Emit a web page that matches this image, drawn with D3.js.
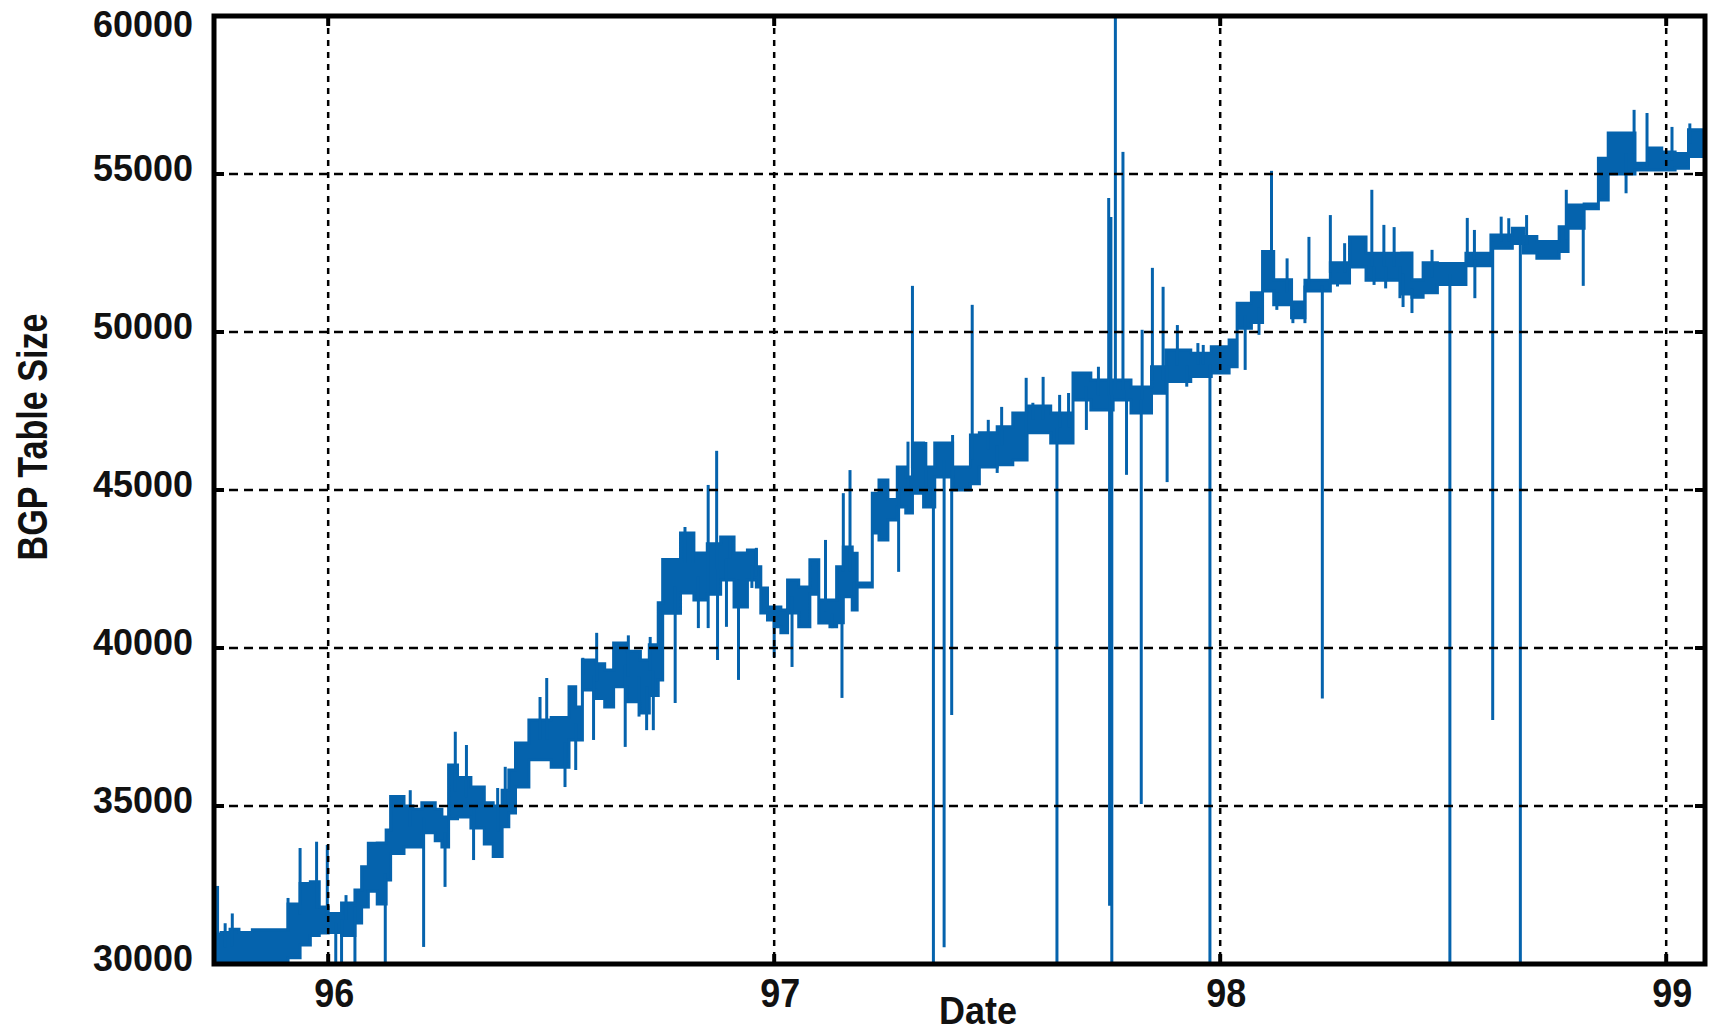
<!DOCTYPE html>
<html>
<head>
<meta charset="utf-8">
<script src="https://cdn.jsdelivr.net/npm/d3@7"></script>
<style>
  body { margin: 0; background: #fff; }
  text { font-family: "Liberation Sans", Arial, sans-serif; font-weight: bold; fill: #111; }
</style>
</head>
<body>
<div id="chart"></div>
<script>
// band of the BGP table size (low / high edge), each row holds until the next date
var dates = [95.745, 95.76, 95.78, 95.80, 95.83, 95.91, 95.937, 95.96, 95.98, 96.00,
  96.03, 96.06, 96.075, 96.09, 96.11, 96.13, 96.14, 96.17, 96.19, 96.21,
  96.24, 96.255, 96.27, 96.29, 96.32, 96.35, 96.37, 96.39, 96.405, 96.42,
  96.45, 96.50, 96.54, 96.555, 96.57, 96.60, 96.62, 96.64, 96.67, 96.70,
  96.72, 96.74, 96.75, 96.79, 96.82, 96.85, 96.88, 96.91, 96.94, 96.96,
  96.97, 96.985, 97.00, 97.015, 97.03, 97.055, 97.08, 97.10, 97.125, 97.14,
  97.155, 97.175, 97.186, 97.22, 97.235, 97.255, 97.276, 97.295, 97.31, 97.335,
  97.36, 97.40, 97.44, 97.46, 97.50, 97.535, 97.567, 97.62, 97.67, 97.71,
  97.76, 97.80, 97.846, 97.878, 97.934, 97.98, 98.02, 98.038, 98.07, 98.095,
  98.12, 98.16, 98.19, 98.247, 98.29, 98.327, 98.407, 98.43, 98.455, 98.487,
  98.551, 98.607, 98.655, 98.68, 98.71, 98.76, 98.78, 98.816, 98.848, 98.87,
  98.93, 98.96, 98.99, 99.02, 99.05, 99.09];

var lowValues = [30000, 30050, 30000, 30050, 30000, 30200, 30600, 30900, 30980, 31000,
  30900, 31300, 31800, 32300, 31900, 32660, 33500, 33700, 33700, 34150,
  33900, 33700, 34600, 34650, 34300, 33800, 33400, 34340, 34780, 35600,
  36460, 36230, 37090, 37090, 38670, 38400, 38130, 38770, 38300, 37940,
  38500, 38990, 41100, 41740, 41520, 41700, 42150, 41300, 42150, 41930,
  41110, 40890, 40670, 40480, 41110, 40670, 41700, 40790, 40670, 40800,
  41620, 41200, 41930, 43640, 43420, 44050, 44460, 44270, 44900, 44460,
  45410, 45000, 45200, 45730, 45800, 45950, 46810, 46490, 47850, 47530,
  47850, 47440, 48060, 48430, 48590, 48700, 48900, 50120, 50300, 51300,
  50860, 50450, 51300, 51550, 52060, 51640, 51200, 51100, 51240, 51500,
  52100, 52650, 52800, 52500, 52330, 52550, 53280, 53900, 54180, 55000,
  55130, 55130, 55130, 55180, 55550, 55550];

var highValues = [30950, 31000, 31100, 31000, 31080, 31900, 32550, 32600, 31800, 31600,
  31930, 32340, 33080, 33820, 33830, 34240, 35300, 35000, 34900, 35100,
  34900, 34650, 36300, 35900, 35600, 35100, 35000, 35500, 36140, 36990,
  37720, 37800, 38770, 38130, 39620, 39500, 39300, 40160, 39900, 39620,
  40100, 41430, 42800, 43640, 43010, 43300, 43510, 43010, 43100, 42570,
  41900, 41300, 41300, 41200, 42150, 41930, 42790, 41520, 41520, 42570,
  43200, 43000, 42060, 44900, 45320, 44700, 45730, 45410, 46490, 45730,
  46490, 45730, 46740, 46810, 47000, 47440, 47660, 47440, 48700, 48480,
  48480, 48260, 48900, 49430, 49330, 49530, 49750, 50910, 51240, 52550,
  51650, 50950, 51640, 52190, 53010, 52490, 52500, 51650, 52190, 52170,
  52490, 53070, 53280, 53020, 52860, 53330, 54020, 54050, 55500, 56300,
  55340, 55820, 55700, 55650, 56400, 56400];

// single-sample excursions away from the band
var spikeDates = [95.752, 95.769, 95.785, 95.91, 95.937, 95.974, 95.998, 96.017, 96.03, 96.04,
  96.06, 96.128, 96.184, 96.214, 96.262, 96.285, 96.31, 96.326, 96.38, 96.397,
  96.475, 96.49, 96.531, 96.555, 96.571, 96.595, 96.602, 96.666, 96.673, 96.697,
  96.714, 96.722, 96.729, 96.778, 96.80, 96.819, 96.83, 96.852, 96.852, 96.871,
  96.873, 96.893, 96.90, 96.92, 96.95, 96.96, 97.00, 97.04, 97.115, 97.13,
  97.152, 97.155, 97.17, 97.18, 97.279, 97.30, 97.31, 97.34, 97.357, 97.381,
  97.398, 97.40, 97.444, 97.48, 97.50, 97.51, 97.565, 97.58, 97.603, 97.634,
  97.64, 97.66, 97.70, 97.727];

var spikeValues = [32470, 31290, 31600, 32090, 33670, 33870, 33770, 30000, 30000, 32180,
  30000, 30000, 35500, 30540, 32440, 37350, 36930, 33290, 35570, 36240,
  38450, 39050, 35600, 36140, 39690, 37090, 40480, 36870, 40400, 37830,
  37400, 40350, 37400, 38260, 43830, 43420, 40630, 45160, 40630, 46240,
  39620, 40670, 43520, 38990, 41900, 43170, 39710, 39400, 43420, 40630,
  38420, 44900, 45630, 41200, 42410, 46530, 51460, 46520, 30000, 30530,
  37880, 46740, 50860, 47220, 45540, 47630, 48550, 47760, 48580, 30000,
  48010, 48070, 46900, 48900];

var lateSpikeDates = [97.750, 97.752, 97.755, 97.757, 97.765, 97.782, 97.79, 97.823, 97.825, 97.848,
  97.872, 97.881, 97.904, 97.925, 97.95, 97.962, 97.977, 98.041, 98.056, 98.087,
  98.115, 98.127, 98.15, 98.163, 98.19, 98.199, 98.229, 98.247, 98.263, 98.279,
  98.34, 98.345, 98.367, 98.371, 98.39, 98.403, 98.41, 98.43, 98.475, 98.515,
  98.554, 98.57, 98.571, 98.611, 98.63, 98.647, 98.673, 98.687, 98.776, 98.814,
  98.91, 98.928, 98.957, 99.013, 99.053];

var lateSpikeValues = [54240, 31840, 53640, 30000, 60500, 55700, 45480, 35060, 50070, 52030,
  51430, 45250, 50220, 48270, 49650, 49590, 30000, 50920, 48800, 49910,
  55100, 50700, 52330, 50280, 50280, 53010, 38400, 53700, 51440, 52810,
  54500, 51490, 53390, 51380, 53320, 51070, 50790, 50600, 52600, 30000,
  53610, 53230, 51070, 37720, 53650, 53600, 30000, 53700, 54500, 51460,
  54390, 57030, 56930, 56490, 56600];

var xTicks = [96, 97, 98, 99];
var yTicks = [30000, 35000, 40000, 45000, 50000, 55000, 60000];

var outerWidth = 1711,
    outerHeight = 1032,
    margin = { top: 16, right: 6, bottom: 68, left: 214 },
    width = outerWidth - margin.left - margin.right,
    height = outerHeight - margin.top - margin.bottom;

var blue = "#0563ad";

var svg = d3.select("#chart").append("svg")
    .attr("width", outerWidth)
    .attr("height", outerHeight);

var x = d3.scaleLinear().domain([95.744, 99.087]).range([margin.left, margin.left + width]);
var y = d3.scaleLinear().domain([30000, 60000]).range([margin.top + height, margin.top]);

var band = dates.map((d, i) => ({ date: d, low: lowValues[i], high: highValues[i] }));

var spikes = spikeDates.map((d, i) => ({ date: d, value: spikeValues[i] }))
    .concat(lateSpikeDates.map((d, i) => ({ date: d, value: lateSpikeValues[i] })));

svg.append("clipPath")
    .attr("id", "plot-clip")
  .append("rect")
    .attr("x", margin.left)
    .attr("y", margin.top)
    .attr("width", width)
    .attr("height", height);

var plot = svg.append("g").attr("clip-path", "url(#plot-clip)");

var area = d3.area()
    .x(d => x(d.date))
    .y0(d => y(d.low))
    .y1(d => y(d.high))
    .curve(d3.curveStepAfter);

plot.append("path")
    .datum(band)
    .attr("d", area)
    .attr("fill", blue)
    .attr("stroke", blue)
    .attr("stroke-width", 3);

// spikes start from the middle of the band they leave
function bandMid(date) {
  var i = d3.bisectRight(dates, date) - 1;
  i = Math.max(0, Math.min(i, band.length - 1));
  return (band[i].low + band[i].high) / 2;
}

plot.append("g")
  .selectAll("line")
  .data(spikes)
  .enter().append("line")
    .attr("x1", d => x(d.date))
    .attr("x2", d => x(d.date))
    .attr("y1", d => y(bandMid(d.date)))
    .attr("y2", d => y(d.value))
    .attr("stroke", blue)
    .attr("stroke-width", 3);

// dashed grid on top of the data
var grid = svg.append("g").attr("stroke", "#000").attr("stroke-width", 2.5);

grid.selectAll(".hgrid")
    .data(yTicks.slice(1, -1))
  .enter().append("line")
    .attr("x1", margin.left)
    .attr("x2", margin.left + width)
    .attr("y1", d => y(d))
    .attr("y2", d => y(d))
    .attr("stroke-dasharray", "9,6");

grid.selectAll(".vgrid")
    .data(xTicks)
  .enter().append("line")
    .attr("x1", d => x(d))
    .attr("x2", d => x(d))
    .attr("y1", margin.top)
    .attr("y2", margin.top + height)
    .attr("stroke-dasharray", "6,6");

// inward ticks
var ticks = svg.append("g").attr("stroke", "#000").attr("stroke-width", 4);
yTicks.forEach(function(v) {
  ticks.append("line").attr("x1", margin.left).attr("x2", margin.left + 10).attr("y1", y(v)).attr("y2", y(v));
  ticks.append("line").attr("x1", margin.left + width).attr("x2", margin.left + width - 10).attr("y1", y(v)).attr("y2", y(v));
});
xTicks.forEach(function(v) {
  ticks.append("line").attr("x1", x(v)).attr("x2", x(v)).attr("y1", margin.top + height).attr("y2", margin.top + height - 10);
  ticks.append("line").attr("x1", x(v)).attr("x2", x(v)).attr("y1", margin.top).attr("y2", margin.top + 10);
});

svg.append("rect")
    .attr("x", margin.left)
    .attr("y", margin.top)
    .attr("width", width)
    .attr("height", height)
    .attr("fill", "none")
    .attr("stroke", "#000")
    .attr("stroke-width", 5);

// tick labels
svg.append("g")
  .selectAll("text")
  .data(yTicks)
  .enter().append("text")
    .attr("x", margin.left - 21)
    .attr("y", d => d === 60000 ? y(d) + 21 : y(d) + 7)
    .attr("text-anchor", "end")
    .attr("font-size", "37px")
    .attr("textLength", d => String(d).length * 20)
    .attr("lengthAdjust", "spacingAndGlyphs")
    .text(d => d);

svg.append("g")
  .selectAll("text")
  .data(xTicks)
  .enter().append("text")
    .attr("x", d => x(d) + 6)
    .attr("y", 1007)
    .attr("text-anchor", "middle")
    .attr("font-size", "40px")
    .attr("textLength", 40)
    .attr("lengthAdjust", "spacingAndGlyphs")
    .text(d => d);

svg.append("text")
    .attr("x", 978)
    .attr("y", 1024)
    .attr("text-anchor", "middle")
    .attr("font-size", "39px")
    .attr("textLength", 78)
    .attr("lengthAdjust", "spacingAndGlyphs")
    .text("Date");

svg.append("text")
    .attr("transform", "translate(47,437) rotate(-90)")
    .attr("text-anchor", "middle")
    .attr("font-size", "43px")
    .attr("textLength", 247)
    .attr("lengthAdjust", "spacingAndGlyphs")
    .text("BGP Table Size");
</script>
</body>
</html>
